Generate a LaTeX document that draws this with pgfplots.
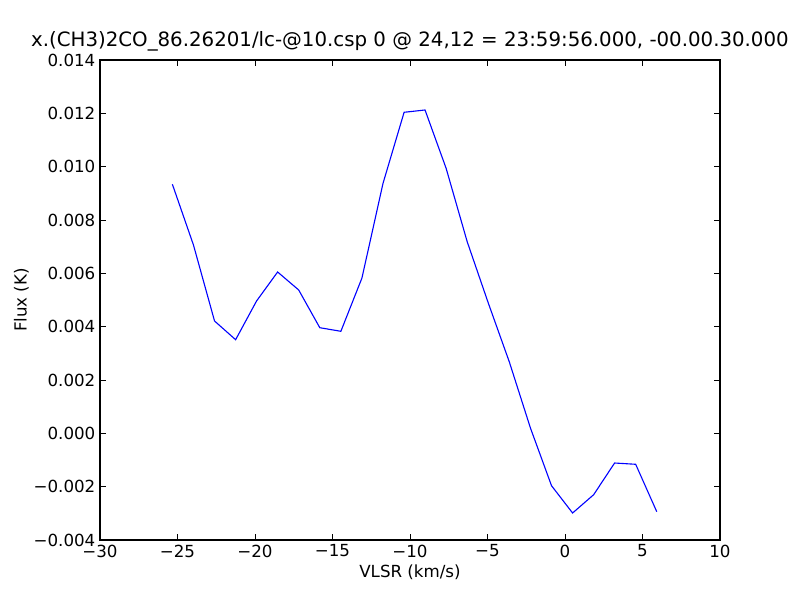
\documentclass[border=0pt]{standalone}
\usepackage{fontspec}
\setmainfont{DejaVu Sans}
\usepackage{pgfplots}
\pgfplotsset{compat=1.18}
\begin{document}
\begin{tikzpicture}
\useasboundingbox (-90pt,-54pt) rectangle (630pt,486pt);
\begin{axis}[
  at={(0,0)}, anchor=south west,
  scale only axis, width=558pt, height=432pt,
  xmin=-30, xmax=10, ymin=-0.004, ymax=0.014,
  xtick={-30,-25,-20,-15,-10,-5,0,5,10},
  xticklabels={−30,−25,−20,−15,−10,−5,0,5,10},
  ytick={-0.004,-0.002,0,0.002,0.004,0.006,0.008,0.010,0.012,0.014},
  yticklabels={−0.004,−0.002,0.000,0.002,0.004,0.006,0.008,0.010,0.012,0.014},
  scaled y ticks=false, scaled x ticks=false,
  tick align=inside, tick pos=both, major tick length=5pt, minor tick num=0,
  axis line style={line width=1pt},
  tick style={black, line width=0.5pt},
  tick label style={font=\fontsize{15}{18}\selectfont, inner sep=4pt},
  title={x.(CH3)2CO\_86.26201/lc-@10.csp 0 @ 24,12 = 23:59:56.000, -00.00.30.000},
  title style={font=\fontsize{17.8}{21}\selectfont, at={(axis description cs:0.5,1)}, anchor=base, yshift=6pt},
  xlabel={VLSR (km/s)}, ylabel={Flux (K)},
  label style={font=\fontsize{15}{18}\selectfont},
  xlabel style={at={(axis description cs:0.5,-0.0787)}, anchor=base},
  ylabel style={at={(axis description cs:-0.1183,0.5)}, anchor=base},
]
\addplot[blue, line width=1pt] coordinates {
(-25.33,0.009339)
(-23.97,0.007062)
(-22.61,0.004212)
(-21.25,0.003511)
(-19.90,0.004962)
(-18.54,0.006050)
(-17.18,0.005375)
(-15.82,0.003961)
(-14.46,0.003826)
(-13.10,0.005825)
(-11.74,0.009376)
(-10.38,0.012039)
(-9.03,0.012125)
(-7.67,0.009939)
(-6.31,0.007186)
(-4.95,0.004887)
(-3.59,0.002675)
(-2.23,0.000200)
(-0.87,-0.001964)
(0.49,-0.002988)
(1.85,-0.002301)
(3.20,-0.001113)
(4.56,-0.001161)
(5.92,-0.002939)
};
\end{axis}
\end{tikzpicture}
\end{document}
